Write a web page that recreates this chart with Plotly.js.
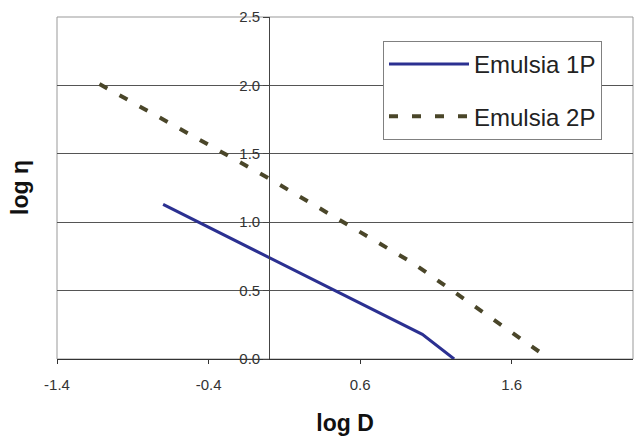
<!DOCTYPE html>
<html>
<head>
<meta charset="utf-8">
<script src="https://cdn.plot.ly/plotly-3.0.1.min.js"></script>
<style>html,body{margin:0;padding:0;background:#fff;}#chart{width:639px;height:442px;}</style>
</head>
<body>
<div id="chart"></div>
<script>
// Data
const seriesNames = ["Emulsia 1P", "Emulsia 2P"];
const logD_1P = [-0.70, 1.01, 1.22];
const logEta_1P = [1.13, 0.18, 0.0];
const logD_2P = [-1.12, -0.01, 0.95, 1.20, 1.85];
const logEta_2P = [2.01, 1.325, 0.70, 0.505, 0.0];
const xTickVals = [-1.4, -0.4, 0.6, 1.6];
const xTickText = ["-1.4", "-0.4", "0.6", "1.6"];
const yTickVals = [0, 0.5, 1.0, 1.5, 2.0, 2.5];
const yTickText = ["0.0", "0.5", "1.0", "1.5", "2.0", "2.5"];
const xRange = [-1.4, 2.4];
const yRange = [0, 2.5];

const font = "Liberation Sans, Arial, sans-serif";

const traces = [
  {
    x: logD_1P, y: logEta_1P, name: seriesNames[0], mode: "lines",
    legendgroup: "a",
    line: {color: "#2B3091", width: 3}
  },
  {
    x: logD_2P, y: logEta_2P, name: seriesNames[1], mode: "lines",
    legendgroup: "b",
    line: {color: "#4A4629", width: 4, dash: "9px,14px"}
  }
];

const layout = {
  width: 639, height: 442,
  margin: {l: 57, r: 6, t: 17, b: 83},
  paper_bgcolor: "#ffffff",
  plot_bgcolor: "#ffffff",
  font: {family: font, color: "#222", size: 15},
  showlegend: true,
  legend: {
    x: (383 - 57) / 576, y: (359 - 41) / 342,
    xanchor: "left", yanchor: "top",
    bgcolor: "#ffffff", bordercolor: "#808080", borderwidth: 1,
    font: {family: font, size: 24, color: "#222"},
    itemwidth: 80,
    tracegroupgap: 18,
    traceorder: "grouped"
  },
  xaxis: {
    range: xRange,
    tickvals: xTickVals, ticktext: xTickText,
    showgrid: false, zeroline: false,
    showline: true, linecolor: "#333", linewidth: 1,
    ticks: "outside", ticklen: 4, tickcolor: "#333",
    ticklabelstandoff: 8,
    tickfont: {family: font, size: 15, color: "#333"},
    title: {text: "log D", font: {family: font, size: 23, color: "#111", weight: "bold"}, standoff: 22}
  },
  yaxis: {
    range: yRange,
    tickvals: yTickVals, ticktext: yTickText,
    anchor: "free", position: 1.4 / 3.8, side: "left",
    showgrid: true, gridcolor: "#555", gridwidth: 1,
    zeroline: false,
    showline: true, linecolor: "#444", linewidth: 1,
    ticks: "outside", ticklen: 6, tickcolor: "#444",
    tickfont: {family: font, size: 15, color: "#333"}
  },
  shapes: [
    {type: "rect", xref: "paper", yref: "paper", x0: 0, x1: 1, y0: 0, y1: 1,
     line: {color: "#999", width: 1}, layer: "below"}
  ],
  annotations: [
    {text: "log η", xref: "paper", yref: "paper", x: (20 - 57) / 576, y: 0.5,
     xanchor: "center", yanchor: "middle", showarrow: false, textangle: -90,
     font: {family: font, size: 23, color: "#111", weight: "bold"}}
  ]
};

Plotly.newPlot("chart", traces, layout, {displayModeBar: false, staticPlot: true});
</script>
</body>
</html>
